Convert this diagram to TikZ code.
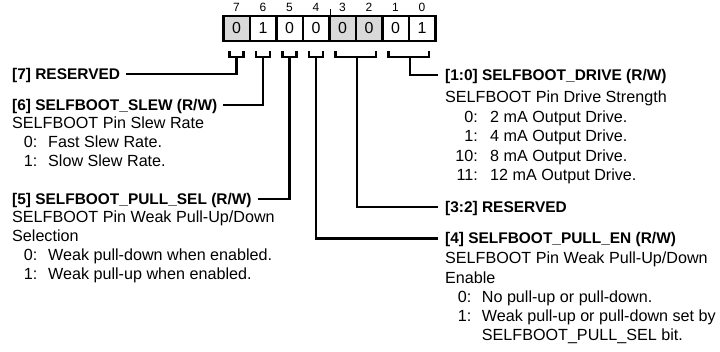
\documentclass[tikz,border=0pt]{standalone}
\usepackage{fontspec}
\setmainfont{Liberation Sans}
\usetikzlibrary{calc}
\definecolor{resgray}{RGB}{217,217,217}
\begin{document}
\begin{tikzpicture}[x=1bp,y=-1bp,
  cell/.style={draw,line width=2.4bp,minimum width=26.5bp,minimum height=25bp,inner sep=0pt,font=\fontsize{16}{18}\selectfont},
  bitno/.style={inner sep=0pt,font=\fontsize{12}{14}\selectfont},
  head/.style={anchor=west,inner sep=0pt,text height=10.7bp,text depth=0pt,font=\fontsize{15.5}{19}\selectfont\bfseries},
  body/.style={anchor=base west,inner sep=0pt,font=\fontsize{16.2}{19}\selectfont},
  num/.style={anchor=base east,inner sep=0pt,font=\fontsize{16.2}{19}\selectfont},
  wire/.style={line width=2.3bp},
  brk/.style={line width=2.3bp},
]
\useasboundingbox (0,0) rectangle (720,351);
% register cells
\node[cell] (c6) at (263.05,28.5) {1};
\node[cell] (c5) at (289.55,28.5) {0};
\node[cell] (c4) at (316.05,28.5) {0};
\node[cell] (c1) at (395.55,28.5) {0};
\node[cell] (c0) at (422.05,28.5) {1};
\node[cell,fill=resgray] (c7) at (236.55,28.5) {0};
\node[cell,fill=resgray] (c3) at (342.55,28.5) {0};
\node[cell,fill=resgray] (c2) at (369.05,28.5) {0};
% bit numbers
\foreach \b in {7,6,5,4,3,2,1,0}{
  \node[bitno] (n\b) at ($(c\b.north)+(0,-7.5)$) {\b};
}
\draw[line width=1.8bp] (c4.north east) -- ++(0,-6);
% brackets
\foreach \b in {7,6,5,4}{
  \draw[brk] ($(c\b.south)+(-7,9)$) -- ($(c\b.south)+(-7,15)$) -- ($(c\b.south)+(7,15)$) -- ($(c\b.south)+(7,9)$);
  \coordinate (k\b) at ($(c\b.south)+(0,15)$);
}
\draw[brk] ($(c3.south)+(-7,9)$) -- ($(c3.south)+(-7,15)$) -- ($(c2.south)+(7,15)$) -- ($(c2.south)+(7,9)$);
\coordinate (k32) at ($(c3.south east)+(0,15)$);
\draw[brk] ($(c1.south)+(-7,9)$) -- ($(c1.south)+(-7,15)$) -- ($(c0.south)+(7,15)$) -- ($(c0.south)+(7,9)$);
\coordinate (k10) at ($(c1.south east)+(0,15)$);
% left headings
\node[head] (h7) at (12,74) {[7] RESERVED};
\node[head] (h6) at (12,105) {[6] SELFBOOT\_SLEW (R/W)};
\node[head] (h5) at (12,199) {[5] SELFBOOT\_PULL\_SEL (R/W)};
% right headings
\node[head] (h10) at (445,75) {[1:0] SELFBOOT\_DRIVE (R/W)};
\node[head] (h32) at (445,207) {[3:2] RESERVED};
\node[head] (h4) at (445,238.5) {[4] SELFBOOT\_PULL\_EN (R/W)};
% connectors
\draw[wire] (k7) |- ([xshift=6bp]h7.east);
\draw[wire] (k6) |- ([xshift=6bp]h6.east);
\draw[wire] (k5) |- ([xshift=6bp]h5.east);
\draw[wire] (k4) |- ([xshift=-7bp]h4.west);
\draw[wire] (k32) |- ([xshift=-7bp]h32.west);
\draw[wire] (k10) |- ([xshift=-7bp]h10.west);
% [6] body
\node[body] (d6a) at (12,128.5) {SELFBOOT Pin Slew Rate};
\node[num] (d6b0) at (37.5,147.5) {0:};
\node[body] (d6b) at (48,147.5) {Fast Slew Rate.};
\node[num] (d6c0) at (37.5,166.5) {1:};
\node[body] (d6c) at (48,166.5) {Slow Slew Rate.};
% [5] body
\node[body] (d5a) at (12,222) {SELFBOOT Pin Weak Pull-Up/Down};
\node[body] (d5b) at (12,241) {Selection};
\node[num] (d5c0) at (37.5,260) {0:};
\node[body] (d5c) at (48,260) {Weak pull-down when enabled.};
\node[num] (d5d0) at (37.5,279) {1:};
\node[body] (d5d) at (48,279) {Weak pull-up when enabled.};
% [1:0] body
\node[body] (d10a) at (445,102) {SELFBOOT Pin Drive Strength};
\node[num] (d10b0) at (478,122) {0:};
\node[body] (d10b) at (490,122) {2 mA Output Drive.};
\node[num] (d10c0) at (478,141.5) {1:};
\node[body] (d10c) at (490,141.5) {4 mA Output Drive.};
\node[num] (d10d0) at (478,161) {10:};
\node[body] (d10d) at (490,161) {8 mA Output Drive.};
\node[num] (d10e0) at (478,180.5) {11:};
\node[body] (d10e) at (490,180.5) {12 mA Output Drive.};
% [4] body
\node[body] (d4a) at (445,263.5) {SELFBOOT Pin Weak Pull-Up/Down};
\node[body] (d4b) at (445,283) {Enable};
\node[num] (d4c0) at (471.5,302) {0:};
\node[body] (d4c) at (481.7,302) {No pull-up or pull-down.};
\node[num] (d4d0) at (471.5,321) {1:};
\node[body] (d4d) at (481.7,321) {Weak pull-up or pull-down set by};
\node[body] (d4e) at (481.7,340) {SELFBOOT\_PULL\_SEL bit.};
\end{tikzpicture}
\end{document}
